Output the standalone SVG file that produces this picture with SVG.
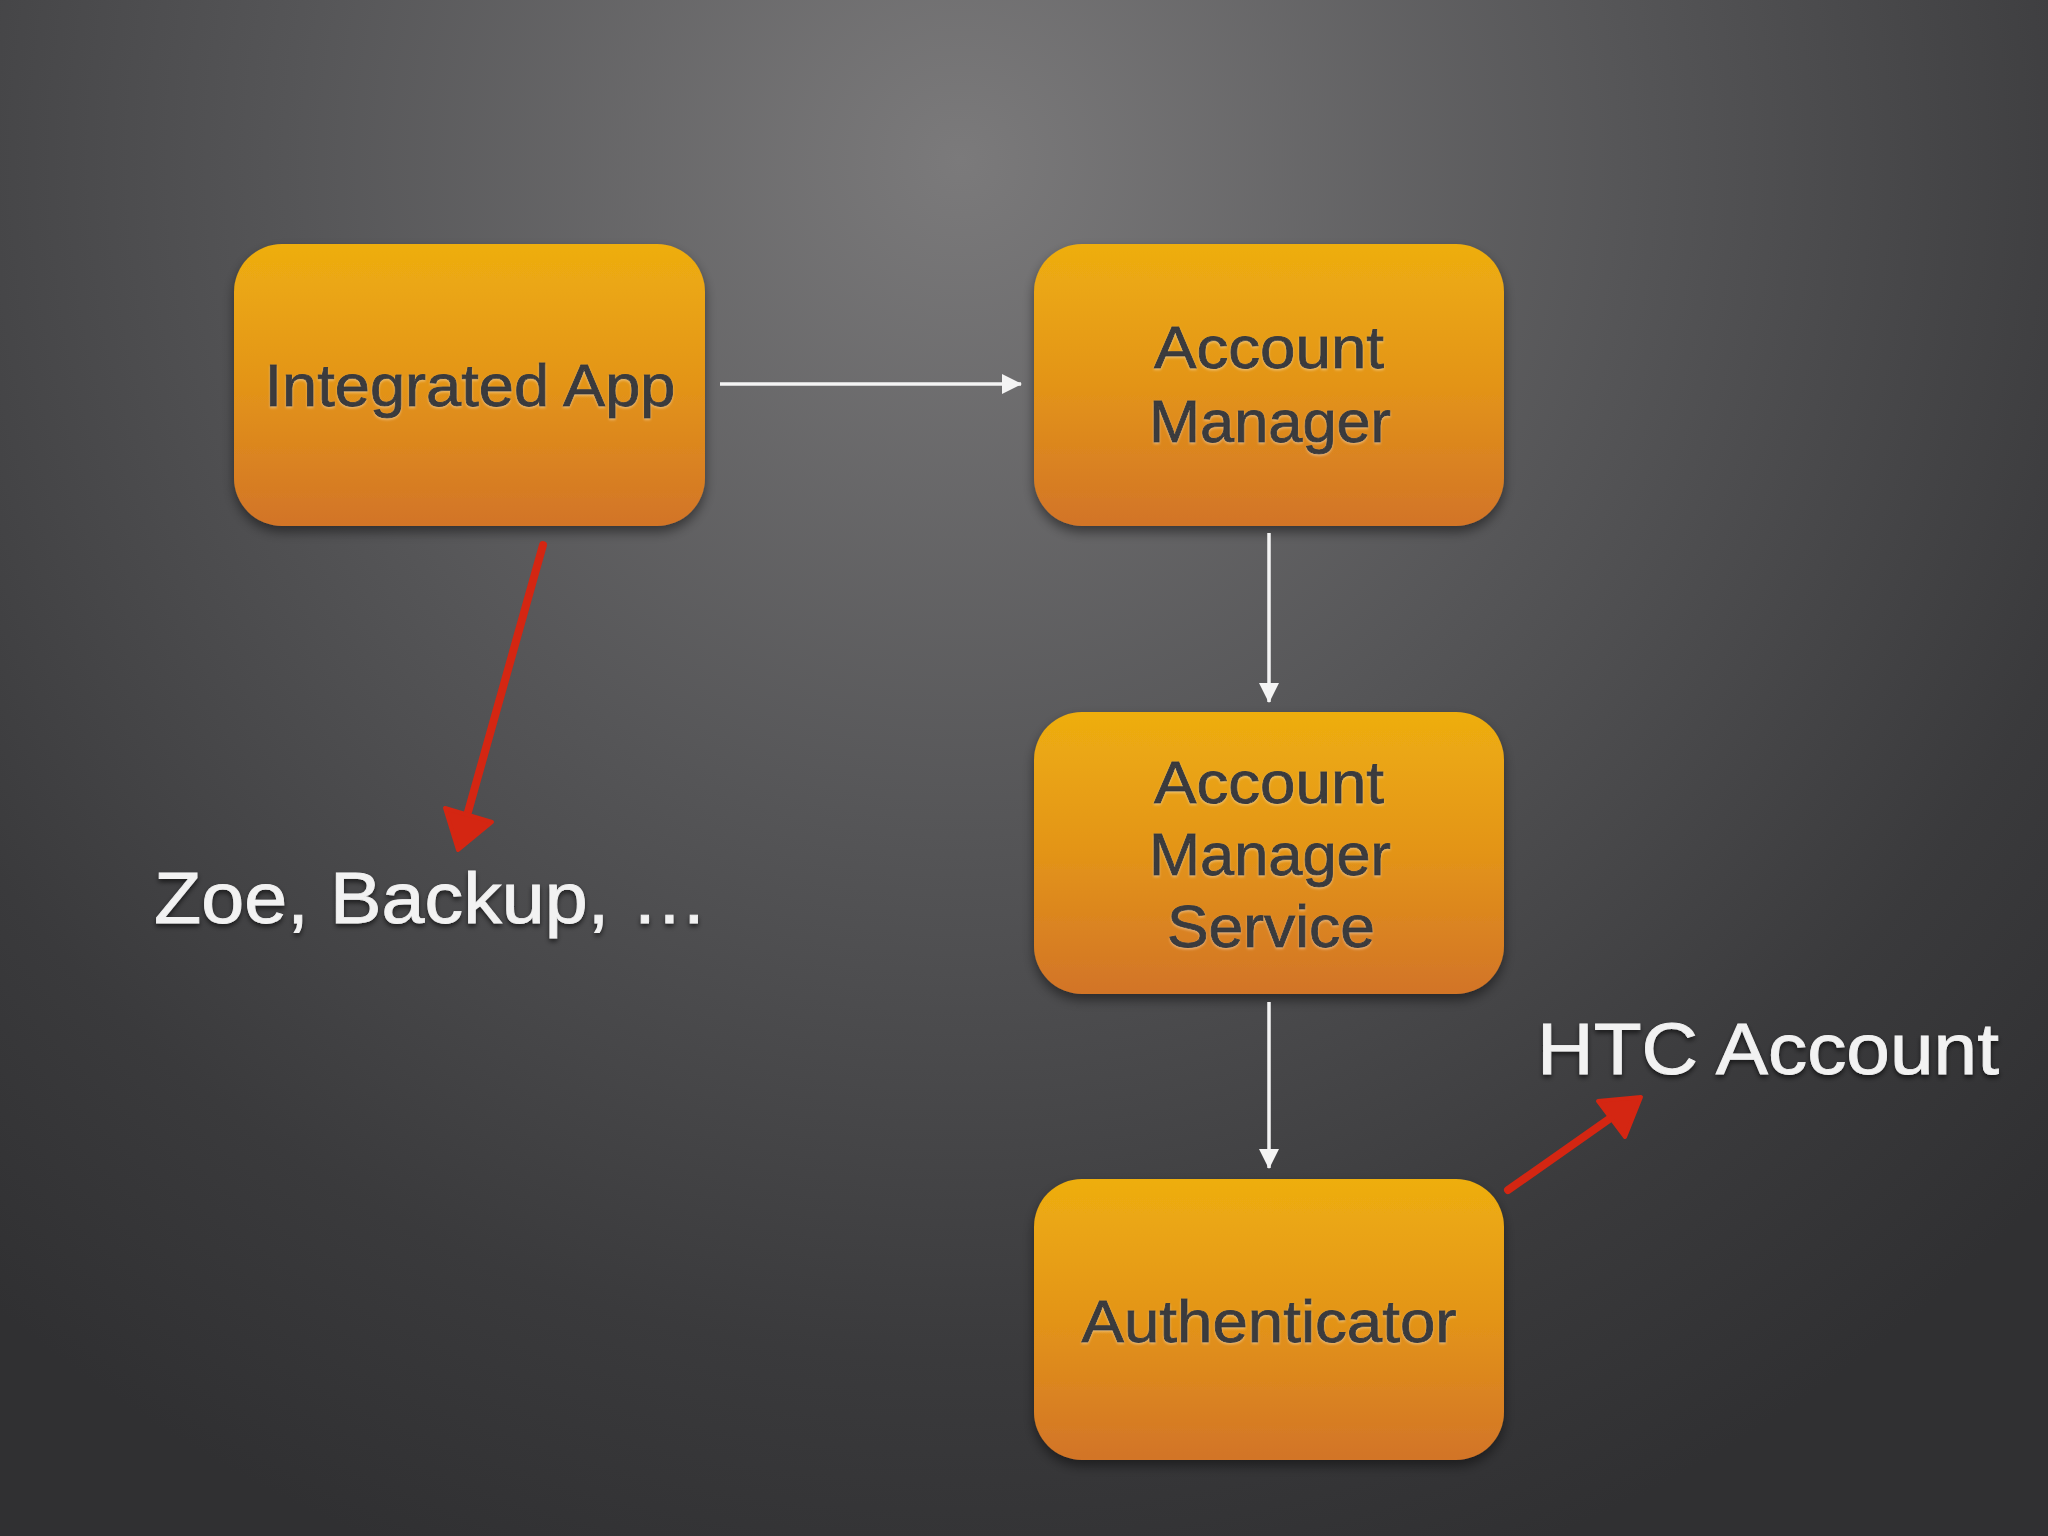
<svg xmlns="http://www.w3.org/2000/svg" width="2048" height="1536" viewBox="0 0 2048 1536">
<defs>
<radialGradient id="bg" cx="960" cy="160" r="1500" gradientUnits="userSpaceOnUse">
<stop offset="0" stop-color="#7b7a7b"/>
<stop offset="0.45" stop-color="#555557"/>
<stop offset="0.8" stop-color="#3a3a3c"/>
<stop offset="1" stop-color="#303032"/>
</radialGradient>
<linearGradient id="box" x1="0" y1="0" x2="0" y2="1">
<stop offset="0" stop-color="#eeae10"/>
<stop offset="0.5" stop-color="#e39418"/>
<stop offset="1" stop-color="#d27428"/>
</linearGradient>
<filter id="shadow" x="-10%" y="-10%" width="120%" height="130%">
<feDropShadow dx="0" dy="6" stdDeviation="6" flood-color="#000" flood-opacity="0.45"/>
</filter>
<filter id="emboss" x="-5%" y="-20%" width="110%" height="150%">
<feDropShadow dx="0" dy="1.5" stdDeviation="0.8" flood-color="#fff" flood-opacity="0.35"/>
</filter>
<filter id="tshadow" x="-5%" y="-20%" width="110%" height="150%">
<feDropShadow dx="0" dy="3" stdDeviation="2.5" flood-color="#000" flood-opacity="0.6"/>
</filter>
<marker id="wa" viewBox="0 0 20 20" refX="19" refY="10" markerWidth="20" markerHeight="20" markerUnits="userSpaceOnUse" orient="auto">
<path d="M0,0 L20,10 L0,20 Z" fill="#f4f4f4"/>
</marker>
</defs>
<style>
.node rect{fill:url(#box);filter:url(#shadow)}
.node text{font-family:"Liberation Sans",Arial,Helvetica,sans-serif;font-size:60px;fill:#3a3a3c;stroke:#3a3a3c;stroke-width:0.9;text-anchor:middle;filter:url(#emboss)}
.lbl{font-family:"Liberation Sans",Arial,Helvetica,sans-serif;font-size:73px;fill:#f2f2f2;stroke:#f2f2f2;stroke-width:0.8;filter:url(#tshadow)}
.wl{stroke:#f4f4f4;stroke-width:3.5;fill:none;marker-end:url(#wa)}
.rl{stroke:#d42612;stroke-width:8;fill:none;stroke-linecap:round}
.rh{fill:#d42612;stroke:#d42612;stroke-width:4;stroke-linejoin:round}
</style>
<rect x="0" y="0" width="2048" height="1536" fill="url(#bg)"/>
<g id="node-integrated-app" class="node">
<rect x="234" y="244" width="471" height="282" rx="48"/>
<text x="470" y="406" textLength="411" lengthAdjust="spacingAndGlyphs">Integrated App</text>
</g>
<g id="node-account-manager" class="node">
<rect x="1034" y="244" width="470" height="282" rx="48"/>
<text x="1269" y="368" textLength="230" lengthAdjust="spacingAndGlyphs">Account</text>
<text x="1270" y="442" textLength="242" lengthAdjust="spacingAndGlyphs">Manager</text>
</g>
<g id="node-account-manager-service" class="node">
<rect x="1034" y="712" width="470" height="282" rx="48"/>
<text x="1269" y="803" textLength="230" lengthAdjust="spacingAndGlyphs">Account</text>
<text x="1270" y="875" textLength="242" lengthAdjust="spacingAndGlyphs">Manager</text>
<text x="1271" y="947" textLength="208" lengthAdjust="spacingAndGlyphs">Service</text>
</g>
<g id="node-authenticator" class="node">
<rect x="1034" y="1179" width="470" height="281" rx="48"/>
<text x="1269" y="1342" textLength="375" lengthAdjust="spacingAndGlyphs">Authenticator</text>
</g>
<g id="label-zoe">
<text class="lbl" x="154" y="923" textLength="554" lengthAdjust="spacingAndGlyphs">Zoe, Backup, …</text>
</g>
<g id="label-htc">
<text class="lbl" x="1537" y="1074" textLength="462" lengthAdjust="spacingAndGlyphs">HTC Account</text>
</g>
<g id="connectors">
<line class="wl" x1="720" y1="384" x2="1021" y2="384"/>
<line class="wl" x1="1269" y1="533" x2="1269" y2="702"/>
<line class="wl" x1="1269" y1="1002" x2="1269" y2="1168"/>
<line class="rl" x1="543" y1="545" x2="468" y2="812"/>
<polygon class="rh" points="445,808 492,822 458,850"/>
<line class="rl" x1="1508" y1="1190" x2="1612" y2="1117"/>
<polygon class="rh" points="1598,1101 1625,1137 1641,1097"/>
</g>
</svg>
